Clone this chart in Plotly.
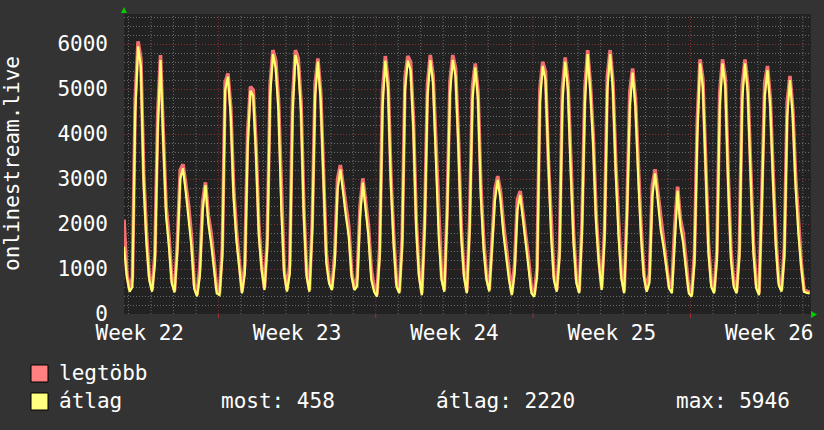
import plotly.graph_objects as go

# ---------------- data (8 samples per day) ----------------
avg_values = [
    1500, 830, 496, 600, 4460, 5946, 5500, 2900,
    1570, 756, 496, 1126, 4090, 5644, 3800, 2160,
    1500, 680, 480, 1400, 3000, 3237, 2700, 2170,
    1500, 560, 390, 850, 2310, 2866, 2015, 1570,
    980, 460, 420, 1300, 4977, 5274, 4400, 2600,
    1640, 1050, 460, 900, 3700, 4963, 4850, 3500,
    1720, 980, 533, 1500, 4830, 5777, 5460, 4500,
    2310, 900, 496, 900, 4460, 5755, 5500, 4500,
    2160, 830, 496, 1870, 4830, 5607, 4750, 2980,
    1130, 680, 530, 1130, 2760, 3215, 2610, 2160,
    1720, 830, 530, 620, 2160, 2918, 2310, 1720,
    760, 500, 385, 1270, 4600, 5629, 4980, 2830,
    1500, 600, 460, 1500, 4980, 5629, 5420, 4090,
    1870, 830, 420, 1870, 4830, 5644, 5125, 3500,
    1720, 760, 496, 2160, 4900, 5644, 5275, 3720,
    1720, 830, 460, 1870, 4755, 5481, 4755, 2610,
    1420, 760, 500, 1500, 2530, 2978, 2530, 1790,
    1270, 760, 420, 900, 2310, 2644, 2090, 1530,
    980, 460, 385, 830, 4680, 5511, 5200, 3200,
    1720, 756, 496, 1270, 4680, 5607, 4980, 3130,
    1570, 680, 460, 1870, 4680, 5777, 4900, 3720,
    2015, 1126, 533, 1644, 4977, 5777, 4977, 3126,
    1720, 790, 460, 2160, 4607, 5363, 4607, 3050,
    1720, 830, 496, 700, 2607, 3126, 2530, 1870,
    1500, 980, 570, 460, 1720, 2740, 1940, 1570,
    980, 460, 385, 1126, 3940, 5570, 5050, 3200,
    1350, 600, 460, 1200, 4600, 5570, 5050, 2900,
    1200, 600, 460, 1270, 4755, 5570, 4900, 3050,
    1350, 570, 420, 2460, 4830, 5422, 4600, 2900,
    1460, 645, 496, 1270, 4385, 5200, 4385, 2830,
    1790, 1050, 496, 470, 458,
]

max_values = [
    2100, 920, 540, 800, 4790, 6060, 5680, 3130,
    1800, 846, 536, 1326, 4420, 5755, 3980, 2390,
    1730, 770, 520, 1600, 3200, 3326, 2880, 2400,
    1730, 650, 430, 1050, 2500, 2926, 2195, 1800,
    1210, 550, 460, 1500, 5150, 5348, 4580, 2830,
    1870, 1140, 500, 1100, 4030, 5052, 4980, 3730,
    1950, 1070, 573, 1700, 5100, 5866, 5640, 4730,
    2540, 990, 536, 1100, 4790, 5866, 5680, 4730,
    2390, 920, 536, 2070, 5100, 5681, 4930, 3210,
    1360, 770, 570, 1330, 3000, 3311, 2790, 2390,
    1950, 920, 570, 820, 2400, 3015, 2490, 1950,
    990, 590, 425, 1470, 4930, 5733, 5160, 3060,
    1730, 690, 500, 1700, 5250, 5733, 5600, 4320,
    2100, 920, 460, 2070, 5100, 5755, 5305, 3730,
    1950, 850, 536, 2360, 5170, 5755, 5455, 3950,
    1950, 920, 500, 2070, 5050, 5570, 4935, 2840,
    1650, 850, 540, 1700, 2770, 3066, 2710, 2020,
    1500, 850, 460, 1100, 2550, 2733, 2270, 1760,
    1210, 550, 425, 1030, 5000, 5607, 5380, 3430,
    1950, 846, 536, 1470, 5000, 5703, 5160, 3360,
    1800, 770, 500, 2070, 5000, 5866, 5080, 3950,
    2245, 1216, 573, 1844, 5280, 5866, 5157, 3356,
    1950, 880, 500, 2360, 4940, 5459, 4787, 3280,
    1950, 920, 536, 900, 2850, 3215, 2710, 2100,
    1730, 1070, 610, 660, 1960, 2830, 2120, 1800,
    1210, 550, 425, 1326, 4270, 5659, 5230, 3430,
    1580, 690, 500, 1400, 4930, 5659, 5230, 3130,
    1430, 690, 500, 1470, 5080, 5659, 5080, 3280,
    1580, 660, 460, 2660, 5130, 5511, 4780, 3130,
    1690, 735, 536, 1470, 4700, 5289, 4565, 3060,
    2020, 1140, 536, 510, 480,
]

samples_per_day = 8
week_labels = ["Week 22", "Week 23", "Week 24", "Week 25", "Week 26"]
week_label_days = [0.7, 7.7, 14.7, 21.7, 28.7]
week_start_days = [4.2, 11.2, 18.2, 25.2]
day_grid_first = 0.2
x_span_days = 30.56
y_max = 6667

series_names = ["legtöbb", "átlag"]
stat_names = ["most", "átlag", "max"]
stat_values = [458, 2220, 5946]
axis_title = "onlinestream.live"

# ---------------- styling ----------------
FONT = "DejaVu Sans Mono"
FS = 21
PAPER = "#333333"
CANVAS = "#222222"
GRID = "#6a6a6a"
MGRID = "#8a3030"
PINK = "#f07070"
YELLOW = "#ffff6a"
TXT = "#ffffff"

W, H = 824, 430
L, R, T, B = 124, 811, 14, 314   # plot area in pixels


def px(X):
    return (X - L) / (R - L)


def py(Y):
    return (B - Y) / (B - T)


times = [i / samples_per_day for i in range(len(avg_values))]

fig = go.Figure()
fig.add_trace(go.Scatter(x=times, y=max_values, mode="lines", name=series_names[0],
                         line=dict(color=PINK, width=3.6), showlegend=False))
fig.add_trace(go.Scatter(x=times, y=avg_values, mode="lines", name=series_names[1],
                         line=dict(color=YELLOW, width=2.2), showlegend=False))

shapes = []
# daily minor grid
d = day_grid_first
while d < x_span_days:
    is_week = any(abs(d - w) < 1e-6 for w in week_start_days)
    if not is_week:
        shapes.append(dict(type="line", xref="x", yref="paper", x0=d, x1=d, y0=0, y1=1,
                           line=dict(color=GRID, width=1, dash="1px,2px"), layer="between"))
    d = round(d + 1, 6)
# weekly major grid + red ticks below the axis
for w in week_start_days:
    shapes.append(dict(type="line", xref="x", yref="paper", x0=w, x1=w, y0=0, y1=1,
                       line=dict(color=MGRID, width=1, dash="1px,2px"), layer="between"))
    shapes.append(dict(type="line", xref="x", yref="paper", x0=w, x1=w, y0=py(314), y1=py(318),
                       line=dict(color="#a03030", width=1), layer="above"))

# green axis arrows
shapes.append(dict(type="path", xref="paper", yref="paper",
                   path=f"M {px(121)} {py(13)} L {px(127)} {py(13)} L {px(124)} {py(7)} Z",
                   fillcolor="#00cc00", line=dict(width=0)))
shapes.append(dict(type="path", xref="paper", yref="paper",
                   path=f"M {px(811)} {py(311)} L {px(811)} {py(318)} L {px(817)} {py(314.5)} Z",
                   fillcolor="#00cc00", line=dict(width=0)))

# legend boxes
for (y0, y1), col in zip([(365, 382), (393, 410)], ["#ff8080", "#ffff80"]):
    shapes.append(dict(type="rect", xref="paper", yref="paper",
                       x0=px(31), x1=px(48), y0=py(y1), y1=py(y0),
                       fillcolor=col, line=dict(color="#000000", width=1)))

annotations = [
    dict(text=axis_title, x=px(12), y=py(164), xref="paper", yref="paper",
         textangle=-90, showarrow=False, xanchor="center", yanchor="middle",
         font=dict(family=FONT, size=FS, color=TXT)),
    dict(text=series_names[0], x=px(57), y=py(373), xref="paper", yref="paper",
         showarrow=False, xanchor="left", yanchor="middle",
         font=dict(family=FONT, size=FS, color=TXT)),
    dict(text=series_names[1], x=px(57), y=py(401), xref="paper", yref="paper",
         showarrow=False, xanchor="left", yanchor="middle",
         font=dict(family=FONT, size=FS, color=TXT)),
]
for name, val, X in zip(stat_names, stat_values, [219, 434, 674]):
    annotations.append(dict(text=f"{name}: {val}", x=px(X), y=py(401), xref="paper", yref="paper",
                            showarrow=False, xanchor="left", yanchor="middle",
                            font=dict(family=FONT, size=FS, color=TXT)))

fig.update_layout(
    width=W, height=H,
    margin=dict(l=L, r=W - R, t=T, b=H - B, pad=0),
    paper_bgcolor=PAPER, plot_bgcolor=CANVAS,
    font=dict(family=FONT, size=FS, color=TXT),
    shapes=shapes, annotations=annotations,
    xaxis=dict(range=[0, x_span_days], tickmode="array", tickvals=week_label_days,
               ticktext=week_labels, showgrid=False, zeroline=False, ticks="",
               ticklabelstandoff=4, showline=False, fixedrange=True),
    yaxis=dict(range=[0, y_max], tick0=0, dtick=1000, showgrid=True, gridcolor=MGRID,
               griddash="1px,2px", gridwidth=1, zeroline=False, ticks="",
               ticklabelstandoff=15, showline=False,
               minor=dict(tick0=0, dtick=200, showgrid=True, gridcolor=GRID,
                          griddash="1px,2px", gridwidth=1),
               fixedrange=True),
)

fig.write_html("out.html")
